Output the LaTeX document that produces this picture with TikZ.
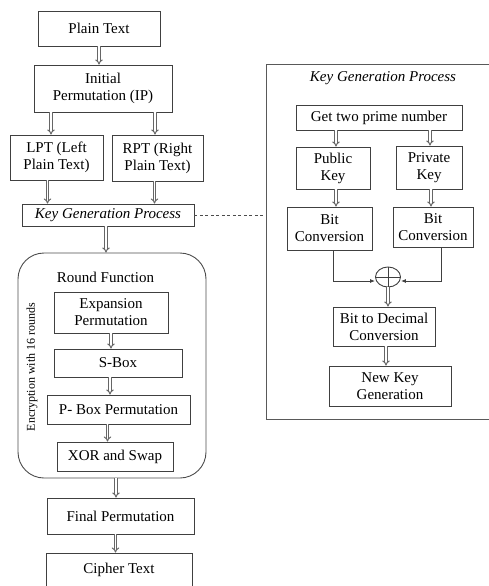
\documentclass[tikz,border=0pt]{standalone}
\usepackage{fontspec}
\setmainfont{Liberation Serif}
\usetikzlibrary{shapes.geometric, arrows.meta, calc, positioning}
\tikzstyle{process} = [rectangle, draw=black!75, line width=0.9pt, inner sep=0pt, text centered, align=center, text=black]
\tikzstyle{arrow} = [draw=black!60, line width=1pt, double, double distance=1.4pt, -{Implies}]
\tikzstyle{thinarrow} = [draw=black!75, line width=0.9pt, -{Latex[length=5pt,width=4pt]}]
\tikzstyle{roundbox} = [rectangle, rounded corners=26pt, draw=black!70, line width=0.9pt, inner sep=0pt]

\begin{document}
\begin{tikzpicture}[x=1pt, y=-1pt, font=\fontsize{15}{17}\selectfont]
\useasboundingbox (0,0) rectangle (489,586);

% Main flow
\node (plain) [process, minimum width=122pt, minimum height=35pt] at (99,28.5) {Plain Text};
\node (ip) [process, minimum width=138pt, minimum height=47pt] at (103,88.5) {Initial\\Permutation (IP)};
\node (lpt) [process, minimum width=93pt, minimum height=45pt] at (56.5,157.5) {LPT (Left\\Plain Text)};
\node (rpt) [process, minimum width=91pt, minimum height=46pt] at (157.5,158) {RPT (Right\\Plain Text)};
\node (kgp) [process, minimum width=172pt, minimum height=22pt] at (108,215) {\itshape Key Generation Process};

% Round function
\node (round) [roundbox, minimum width=188pt, minimum height=225pt] at (112,365.5) {};
\node (roundlbl) at (105.5,277) {Round Function};
\node (rounds) [rotate=90, font=\fontsize{12}{14}\selectfont] at (32,367) {Encryption with 16 rounds};
\node (exp) [process, minimum width=114pt, minimum height=41pt] at (111,312.5) {Expansion\\Permutation};
\node (sbox) [process, minimum width=128pt, minimum height=28pt] at (118,363) {S-Box};
\node (pbox) [process, minimum width=143pt, minimum height=29pt] at (118.5,409.5) {P- Box Permutation};
\node (swap) [process, minimum width=116pt, minimum height=29pt] at (115,456.5) {XOR and Swap};

\node (final) [process, minimum width=147pt, minimum height=36pt] at (120.5,516) {Final Permutation};
\node (cipher) [process, minimum width=146pt, minimum height=34pt] at (119,570) {Cipher Text};

% Key generation detail
\node (keybox) [process, draw=black!65, minimum width=234pt, minimum height=355pt] at (383,241.5) {};
\node (keytitle) at (383,78) {\itshape Key Generation Process};
\node (prime) [process, minimum width=166pt, minimum height=25pt] at (379,117.5) {Get two prime number};
\node (pub) [process, minimum width=74pt, minimum height=42pt] at (333,168) {Public\\Key};
\node (priv) [process, minimum width=66pt, minimum height=43pt] at (429,167.5) {Private\\Key};
\node (bcl) [process, minimum width=85pt, minimum height=43pt] at (329.5,228.5) {Bit\\Conversion};
\node (bcr) [process, minimum width=80pt, minimum height=40pt] at (433,227) {Bit\\Conversion};
\node (xorc) [ellipse, draw=black!75, line width=0.9pt, minimum width=25pt, minimum height=20pt, inner sep=0pt] at (388,277) {};
\draw [black!75, line width=0.9pt] (xorc.north) -- (xorc.south) (xorc.west) -- (xorc.east);
\node (b2d) [process, minimum width=102pt, minimum height=39pt] at (384,326.5) {Bit to Decimal\\Conversion};
\node (newkey) [process, minimum width=122pt, minimum height=40pt] at (390,386) {New Key\\Generation};

% Arrows
\draw [arrow] (plain.south) -- (plain.south |- ip.north);
\draw [arrow] ([xshift=-52pt]ip.south) -- ([xshift=-52pt]ip.south |- lpt.north);
\draw [arrow] ([xshift=52pt]ip.south) -- ([xshift=52pt]ip.south |- rpt.north);
\draw [arrow] ([xshift=-9pt]lpt.south) -- ([xshift=-9pt]lpt.south |- kgp.north);
\draw [arrow] ([xshift=-3pt]rpt.south) -- ([xshift=-3pt]rpt.south |- kgp.north);
\draw [arrow] ([xshift=-2pt]kgp.south) -- ([xshift=-2pt]kgp.south |- round.north);
\draw [arrow] (exp.south) -- (exp.south |- sbox.north);
\draw [arrow] ([xshift=-8pt]sbox.south) -- ([xshift=-8pt]sbox.south |- pbox.north);
\draw [arrow] ([xshift=-11pt]pbox.south) -- ([xshift=-11pt]pbox.south |- swap.north);
\draw [arrow] ([xshift=4pt]round.south) -- ([xshift=4pt]round.south |- final.north);
\draw [arrow] ([xshift=-5pt]final.south) -- ([xshift=-5pt]final.south |- cipher.north);

\draw [arrow] ([xshift=-43pt]prime.south) -- ([xshift=-43pt]prime.south |- pub.north);
\draw [arrow] ([xshift=51pt]prime.south) -- ([xshift=51pt]prime.south |- priv.north);
\draw [arrow] ([xshift=3pt]pub.south) -- ([xshift=3pt]pub.south |- bcl.north);
\draw [arrow] ([xshift=2pt]priv.south) -- ([xshift=2pt]priv.south |- bcr.north);
\draw [thinarrow] ([xshift=3.5pt]bcl.south) |- ([yshift=-4pt]xorc.west);
\draw [thinarrow] ([xshift=8pt]bcr.south) |- ([yshift=-4pt]xorc.east);
\draw [arrow] (xorc.south) -- (xorc.south |- b2d.north);
\draw [arrow] ([xshift=2pt]b2d.south) -- ([xshift=2pt]b2d.south |- newkey.north);

% Link to detail
\draw [black!70, line width=0.8pt, dash pattern=on 3pt off 2.5pt] (kgp.east) -- (kgp.east -| keybox.west);

\end{tikzpicture}
\end{document}
